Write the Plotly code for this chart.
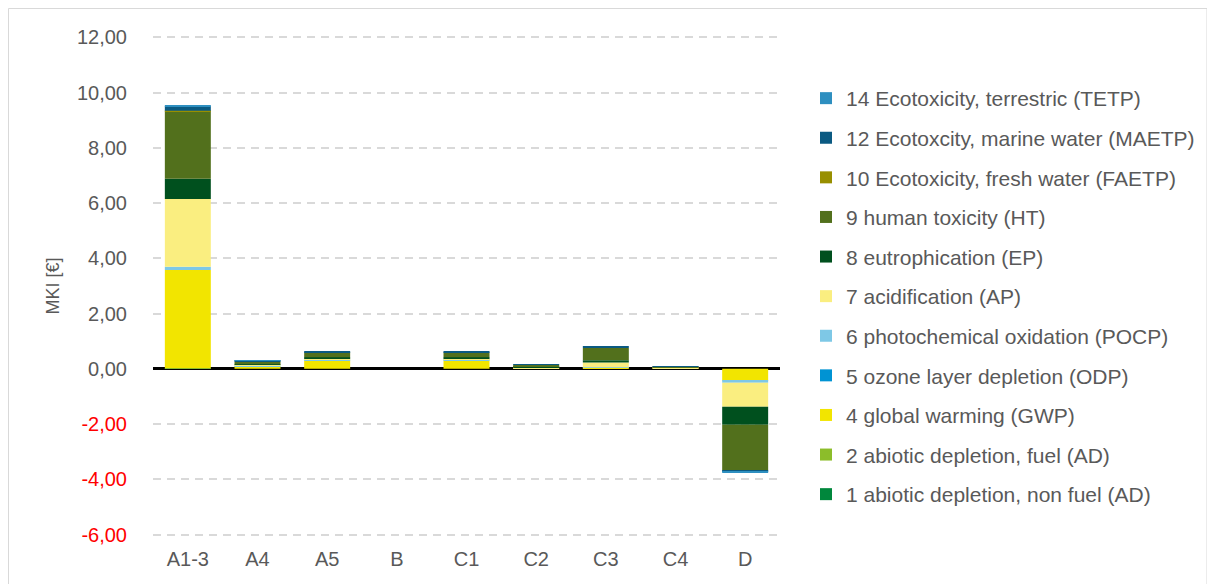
import plotly.graph_objects as go

# Life-cycle stages (x categories)
stages = ["A1-3", "A4", "A5", "B", "C1", "C2", "C3", "C4", "D"]

# MKI contribution per impact category, in euro
ad_non_fuel = [0.01, 0.00, 0.00, 0.0, 0.00, 0.00, 0.00, 0.00, 0.00]
ad_fuel = [0.02, 0.00, 0.00, 0.0, 0.00, 0.00, 0.00, 0.00, 0.00]
gwp = [3.55, 0.10, 0.31, 0.0, 0.31, 0.03, 0.05, 0.02, -0.43]
odp = [0.00, 0.00, 0.00, 0.0, 0.00, 0.00, 0.00, 0.00, 0.00]
pocp = [0.12, 0.01, 0.02, 0.0, 0.02, 0.00, 0.01, 0.00, -0.07]
ap = [2.45, 0.04, 0.06, 0.0, 0.06, 0.03, 0.17, 0.02, -0.87]
ep = [0.73, 0.02, 0.03, 0.0, 0.03, 0.01, 0.08, 0.00, -0.65]
ht = [2.45, 0.10, 0.18, 0.0, 0.18, 0.08, 0.45, 0.05, -1.67]
faetp = [0.01, 0.00, 0.00, 0.0, 0.00, 0.00, 0.00, 0.00, 0.00]
maetp = [0.17, 0.04, 0.03, 0.0, 0.03, 0.02, 0.04, 0.01, -0.02]
tetp = [0.02, 0.01, 0.00, 0.0, 0.00, 0.00, 0.00, 0.00, -0.05]

series = [
    ("1 abiotic depletion, non fuel (AD)", ad_non_fuel, "#00873C"),
    ("2 abiotic depletion, fuel (AD)", ad_fuel, "#8CBD2A"),
    ("4 global warming (GWP)", gwp, "#F2E500"),
    ("5 ozone layer depletion (ODP)", odp, "#0093D3"),
    ("6 photochemical oxidation (POCP)", pocp, "#7EC8E6"),
    ("7 acidification (AP)", ap, "#FAEE80"),
    ("8 eutrophication (EP)", ep, "#00501E"),
    ("9 human toxicity (HT)", ht, "#52701C"),
    ("10 Ecotoxicity, fresh water (FAETP)", faetp, "#988F00"),
    ("12 Ecotoxcity, marine water (MAETP)", maetp, "#0B5A82"),
    ("14 Ecotoxicity, terrestric (TETP)", tetp, "#2E8FC0"),
]

tick_vals = [-6, -4, -2, 0, 2, 4, 6, 8, 10, 12]
tick_text = [
    f'<span style="color:#FF0000">{v:.2f}</span>'.replace(".", ",") if v < 0
    else f"{v:.2f}".replace(".", ",")
    for v in tick_vals
]

FONT = "Liberation Sans, Arial, sans-serif"
TEXT_COLOR = "#595959"

# plot area geometry (figure pixels; the page adds an 8px body margin)
L, T, PW, PH = 145, 28, 627, 500

fig = go.Figure()
for i, (name, values, color) in enumerate(series):
    fig.add_trace(go.Bar(
        x=stages,
        y=values,
        name=name,
        legendgroup=str(i),
        legendrank=1000 - i,  # last stacked series on top of the legend
        marker=dict(color=color, line=dict(width=0)),
    ))

# Light outer frame around the whole chart area
fig.add_shape(
    type="rect", xref="paper", yref="paper",
    x0=(0.5 - L) / PW, x1=(1199 - L) / PW,
    y0=-0.3, y1=(T + PH - 0.5) / PH,
    line=dict(color="#D9D9D9", width=1), layer="below",
)

fig.update_layout(
    width=1215,
    height=584,
    barmode="relative",
    bargap=0.34,
    paper_bgcolor="white",
    plot_bgcolor="white",
    font=dict(family=FONT, size=20, color=TEXT_COLOR),
    margin=dict(l=L, r=1215 - L - PW, t=T, b=584 - T - PH),
    showlegend=True,
    legend=dict(
        traceorder="grouped",
        x=(798 - L) / PW,
        xanchor="left",
        y=(T + PH - 70) / PH,
        yanchor="top",
        font=dict(size=21, color=TEXT_COLOR),
        tracegroupgap=9.3,
        itemwidth=30,
        bgcolor="rgba(0,0,0,0)",
    ),
    xaxis=dict(
        showgrid=False,
        showline=False,
        ticks="outside",
        ticklen=5,
        tickcolor="rgba(0,0,0,0)",
        tickfont=dict(size=20, color=TEXT_COLOR),
    ),
    yaxis=dict(
        range=[-6.05, 12.05],
        tickvals=tick_vals,
        ticktext=tick_text,
        tickfont=dict(size=20, color=TEXT_COLOR),
        ticklabelstandoff=25,
        showgrid=True,
        gridcolor="#D9D9D9",
        gridwidth=2,
        griddash="8px,6px",
        zeroline=True,
        zerolinecolor="#000000",
        zerolinewidth=2.5,
        showline=False,
        title=dict(text="MKI [€]", font=dict(size=18, color=TEXT_COLOR), standoff=12),
    ),
)

fig.write_html("out.html")
